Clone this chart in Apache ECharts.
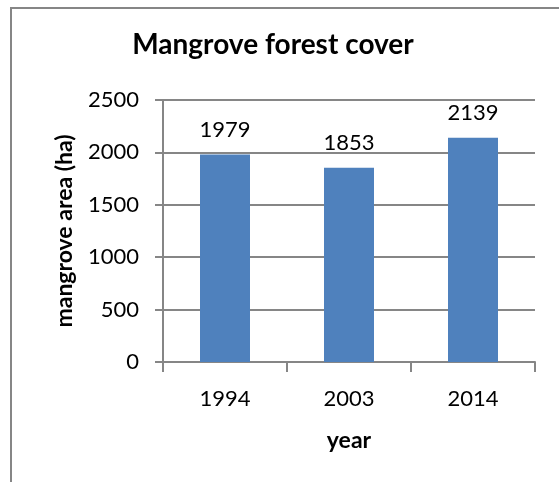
<!DOCTYPE html>
<html>
<head>
<meta charset="utf-8">
<script src="https://cdn.jsdelivr.net/npm/echarts@6/dist/echarts.min.js"></script>
<style>
  html, body { margin: 0; padding: 0; background: #fff; }
  #chart { width: 559px; height: 482px; }
</style>
</head>
<body>
<div id="chart"></div>
<script>
// Mangrove forest cover by survey year
const years = ['1994', '2003', '2014'];
const areaHa = [1979, 1853, 2139];
const yTicks = { min: 0, max: 2500, step: 500 };

const FONT = 'Lato';
const GREY = '#868686';

const chart = echarts.init(document.getElementById('chart'), null, { renderer: 'canvas' });
chart.setOption({
  backgroundColor: '#ffffff',
  animation: false,
  title: {
    text: 'Mangrove forest cover',
    left: 268,
    top: 26,
    textAlign: 'center',
    textStyle: { fontFamily: FONT, fontSize: 28, fontWeight: 'bold', color: '#000' }
  },
  graphic: [{
    type: 'rect',
    shape: { x: 11, y: 8, width: 700, height: 700 },
    style: { fill: 'none', stroke: GREY, lineWidth: 2 },
    silent: true
  }],
  grid: { left: 163, right: 24, top: 100, bottom: 120 },
  xAxis: {
    type: 'category',
    data: years,
    name: 'year',
    nameLocation: 'middle',
    nameGap: 67,
    nameTextStyle: { fontFamily: FONT, fontSize: 23, fontWeight: 'bold', color: '#000' },
    axisLine: { lineStyle: { color: GREY, width: 2 } },
    axisTick: { show: true, length: 10, lineStyle: { color: GREY, width: 2 } },
    axisLabel: { fontFamily: FONT, fontSize: 22, color: '#000', margin: 26 }
  },
  yAxis: {
    type: 'value',
    min: yTicks.min,
    max: yTicks.max,
    interval: yTicks.step,
    name: 'mangrove area (ha)',
    nameLocation: 'middle',
    nameGap: 87,
    nameTextStyle: { fontFamily: FONT, fontSize: 23, fontWeight: 'bold', color: '#000' },
    axisLine: { show: true, lineStyle: { color: GREY, width: 2 } },
    axisTick: { show: true, length: 8, lineStyle: { color: GREY, width: 2 } },
    splitLine: { show: true, lineStyle: { color: GREY, width: 2 } },
    axisLabel: {
      fontFamily: FONT, fontSize: 22, color: '#000', margin: 24,
      formatter: (v) => String(v)
    }
  },
  series: [{
    type: 'bar',
    data: areaHa,
    barWidth: 50,
    itemStyle: { color: '#4F81BD' },
    label: {
      show: true,
      position: 'top',
      distance: 14,
      fontFamily: FONT,
      fontSize: 22,
      color: '#000'
    }
  }]
});
</script>
</body>
</html>
